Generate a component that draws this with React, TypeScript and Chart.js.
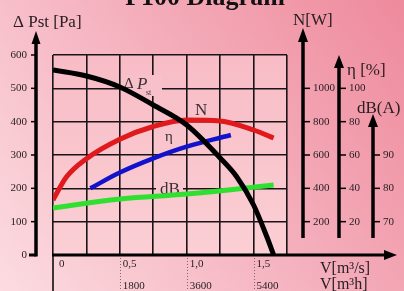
import React, { useEffect, useRef } from "react";
import { Chart, registerables } from "chart.js";
Chart.register(...registerables);

// ---- data ----
const pstFlow = [0, 0.25, 0.5, 0.75, 1.0, 1.25, 1.375, 1.5, 1.6, 1.65];
const pstValues = [555, 537, 504, 450, 390, 291, 234, 150, 54, 0];
const powerFlow = [0, 0.1, 0.25, 0.5, 0.75, 1.0, 1.25, 1.5, 1.65];
const powerValues = [330, 468, 578, 695, 771, 810, 804, 750, 702];
const effFlow = [0.28, 0.5, 0.75, 1.0, 1.33];
const effValues = [40, 49.5, 58, 65, 72];
const noiseFlow = [0, 0.5, 1.0, 1.65];
const noiseValues = [74.1, 76.8, 78.3, 81];

// ---- tick labels ----
const paTicks = [0, 100, 200, 300, 400, 500, 600];
const powerTicks = [200, 400, 600, 800, 1000];
const effTicks = [20, 40, 60, 80, 100];
const noiseTicks = [70, 80, 90];
const flowTicks = [0, 0.5, 1.0, 1.5];
const flowLabels = ["0", "0,5", "1,0", "1,5"];
const hourTicks = [0.5, 1.0, 1.5];
const hourLabels = ["1800", "3600", "5400"];

const SERIF = "'Liberation Serif','Times New Roman','DejaVu Serif',serif";
const f = (px: number, style = "") => `${style} ${px}px ${SERIF}`.trim();
const TXT = "#2a2024";

function arrowAxis(ctx: CanvasRenderingContext2D, x: number, tip: number, bottom: number, head: number, half: number, w: number) {
  ctx.lineWidth = w;
  ctx.beginPath();
  ctx.moveTo(x, tip + head - 1);
  ctx.lineTo(x, bottom);
  ctx.stroke();
  ctx.beginPath();
  ctx.moveTo(x, tip);
  ctx.lineTo(x - half, tip + head);
  ctx.lineTo(x + half, tip + head);
  ctx.closePath();
  ctx.fill();
}

const decor = {
  id: "decor",
  beforeDraw(chart: any) {
    const { ctx, width, height, chartArea: a } = chart;
    ctx.save();
    const g = ctx.createLinearGradient(width, 0, 0, height);
    g.addColorStop(0, "#ee8a9c");
    g.addColorStop(0.5, "#f5b2bf");
    g.addColorStop(1, "#fcdce1");
    ctx.fillStyle = g;
    ctx.fillRect(0, 0, width, height);
    const g2 = ctx.createLinearGradient(0, a.top, 0, a.bottom);
    g2.addColorStop(0, "#f8bcc6");
    g2.addColorStop(1, "#fbcfd5");
    ctx.fillStyle = g2;
    ctx.fillRect(a.left, a.top, a.right - a.left, a.bottom - a.top);
    // title (cut off at the top in the reference)
    ctx.fillStyle = "#111";
    ctx.font = f(26, "bold");
    ctx.textAlign = "center";
    ctx.textBaseline = "alphabetic";
    ctx.fillText("P100 Diagram", 205, 5);
    ctx.restore();
  },
  beforeDatasetsDraw(chart: any) {
    const { ctx } = chart;
    ctx.save();
    // label backgrounds hiding grid lines
    ctx.fillStyle = "#f8c0c9";
    ctx.fillRect(122, 75, 40, 21);
    ctx.fillStyle = "#f9c6ce";
    ctx.fillRect(156, 181, 27, 15);
    ctx.fillStyle = "#3a3034";
    ctx.textAlign = "left";
    ctx.textBaseline = "alphabetic";
    ctx.font = f(15);
    ctx.fillText("Δ", 124, 88);
    ctx.font = f(17, "italic");
    ctx.fillText("P", 137, 89);
    ctx.font = f(8);
    ctx.fillText("st", 146, 95);
    ctx.font = f(17);
    ctx.fillText("N", 195, 115);
    ctx.font = f(15);
    ctx.fillText("η", 165, 141);
    ctx.font = f(17);
    ctx.fillText("dB", 160, 194);
    ctx.restore();
  },
  afterDraw(chart: any) {
    const { ctx, scales } = chart;
    const sx = scales.x, sy = scales.y, sN = scales.yN, sE = scales.yEta, sD = scales.yDb;
    ctx.save();
    ctx.strokeStyle = "#000";
    ctx.fillStyle = "#000";
    ctx.lineCap = "butt";

    // lines below the x axis
    ctx.lineWidth = 1.5;
    ctx.beginPath();
    ctx.moveTo(sx.getPixelForValue(0), 255);
    ctx.lineTo(sx.getPixelForValue(0), 291);
    ctx.stroke();
    ctx.strokeStyle = "#7a6a6e";
    ctx.lineWidth = 1;
    ctx.setLineDash([1, 2]);
    hourTicks.forEach((v) => {
      const x = Math.round(sx.getPixelForValue(v)) + 0.5;
      ctx.beginPath();
      ctx.moveTo(x, 258);
      ctx.lineTo(x, 291);
      ctx.stroke();
    });
    ctx.setLineDash([]);
    ctx.strokeStyle = "#000";

    // x axis with arrow
    const y0 = sy.getPixelForValue(0);
    ctx.lineWidth = 3;
    ctx.beginPath();
    ctx.moveTo(sx.getPixelForValue(0) - 1, y0);
    ctx.lineTo(386, y0);
    ctx.stroke();
    ctx.beginPath();
    ctx.moveTo(397, y0);
    ctx.lineTo(384, y0 - 5);
    ctx.lineTo(384, y0 + 5);
    ctx.closePath();
    ctx.fill();

    // left Pa axis
    arrowAxis(ctx, 36, 31, y0 + 1.5, 13, 4.5, 3.5);
    paTicks.forEach((v) => {
      const y = sy.getPixelForValue(v);
      ctx.lineWidth = v === 0 ? 3 : 1.5;
      ctx.beginPath();
      ctx.moveTo(v === 0 ? 29 : 31, y);
      ctx.lineTo(36, y);
      ctx.stroke();
    });
    // right axes
    arrowAxis(ctx, 303, 28, 238, 14, 5, 3.5);
    arrowAxis(ctx, 339, 55, 238, 13, 5, 3.5);
    arrowAxis(ctx, 373, 114, 238, 13, 5, 3.5);
    ctx.lineWidth = 1.5;
    const tickSet = (scale: any, vals: number[], x: number) =>
      vals.forEach((v) => {
        const y = scale.getPixelForValue(v);
        ctx.beginPath();
        ctx.moveTo(x, y);
        ctx.lineTo(x + 6, y);
        ctx.stroke();
      });
    tickSet(sN, powerTicks, 304);
    tickSet(sE, effTicks, 340);
    tickSet(sD, noiseTicks, 374);

    // tick labels
    ctx.fillStyle = TXT;
    ctx.font = f(11);
    ctx.textBaseline = "middle";
    ctx.textAlign = "right";
    paTicks.forEach((v) => ctx.fillText(String(v), 27, sy.getPixelForValue(v)));
    ctx.textAlign = "left";
    powerTicks.forEach((v) => ctx.fillText(String(v), 313, sN.getPixelForValue(v)));
    effTicks.forEach((v) => ctx.fillText(String(v), 349, sE.getPixelForValue(v)));
    noiseTicks.forEach((v) => ctx.fillText(String(v), 383, sD.getPixelForValue(v)));
    ctx.textBaseline = "alphabetic";
    flowTicks.forEach((v, i) => ctx.fillText(flowLabels[i], sx.getPixelForValue(v) + (v === 0 ? 6 : 3), 267));
    hourTicks.forEach((v, i) => ctx.fillText(hourLabels[i], sx.getPixelForValue(v) + 3, 289));

    // axis titles
    ctx.font = f(17);
    ctx.fillText("Δ Pst [Pa]", 13, 27);
    ctx.fillText("N[W]", 293, 25);
    ctx.fillText("η [%]", 347, 75);
    ctx.fillText("dB(A)", 357, 113);
    ctx.font = f(16);
    ctx.fillText("V[m³/s]", 320, 273);
    ctx.fillText("V[m³h]", 320, 289);
    ctx.restore();
  },
};

function series(xs: number[], ys: number[]) {
  return xs.map((x, i) => ({ x, y: ys[i] }));
}

export default function App() {
  const ref = useRef<HTMLCanvasElement>(null);
  useEffect(() => {
    const common = { pointRadius: 0, fill: false, borderCapStyle: "butt" as const };
    const smooth = { ...common, tension: 0.4 };
    const mono = { ...common, cubicInterpolationMode: "monotone" as const };
    const chart = new Chart(ref.current!, {
      type: "line",
      data: {
        datasets: [
          { label: "ΔPst", data: series(pstFlow, pstValues), yAxisID: "y", borderColor: "#000000", borderWidth: 5, ...mono },
          { label: "N", data: series(powerFlow, powerValues), yAxisID: "yN", borderColor: "#e01a1c", borderWidth: 5, ...mono },
          { label: "η", data: series(effFlow, effValues), yAxisID: "yEta", borderColor: "#1212cc", borderWidth: 4.5, ...smooth },
          { label: "dB", data: series(noiseFlow, noiseValues), yAxisID: "yDb", borderColor: "#2fe030", borderWidth: 5, ...smooth },
        ],
      },
      options: {
        responsive: false,
        animation: false,
        layout: { padding: { left: 53, top: 55, right: 117, bottom: 36 } },
        plugins: { legend: { display: false }, tooltip: { enabled: false } },
        scales: {
          x: {
            type: "linear",
            min: 0,
            max: 1.75,
            ticks: { display: false, stepSize: 0.25 },
            grid: { color: "#1a1416", lineWidth: 1.6, drawTicks: false },
            border: { display: false },
            afterFit: (s: any) => { s.height = 0; },
          },
          y: {
            type: "linear",
            position: "left",
            min: 0,
            max: 600,
            ticks: { display: false, stepSize: 100 },
            grid: { color: "#1a1416", lineWidth: 1.6, drawTicks: false },
            border: { display: false },
            afterFit: (s: any) => { s.width = 0; },
          },
          yN: { type: "linear", position: "right", min: 0, max: 1200, display: false },
          yEta: { type: "linear", position: "right", min: 0, max: 120, display: false },
          yDb: { type: "linear", position: "right", min: 60, max: 120, display: false },
        },
      },
      plugins: [decor],
    } as any);
    return () => chart.destroy();
  }, []);
  return (
    <div style={{ position: "fixed", left: 0, top: 0, width: 404, height: 291 }}>
      <canvas ref={ref} width={404} height={291} style={{ display: "block" }} />
    </div>
  );
}
